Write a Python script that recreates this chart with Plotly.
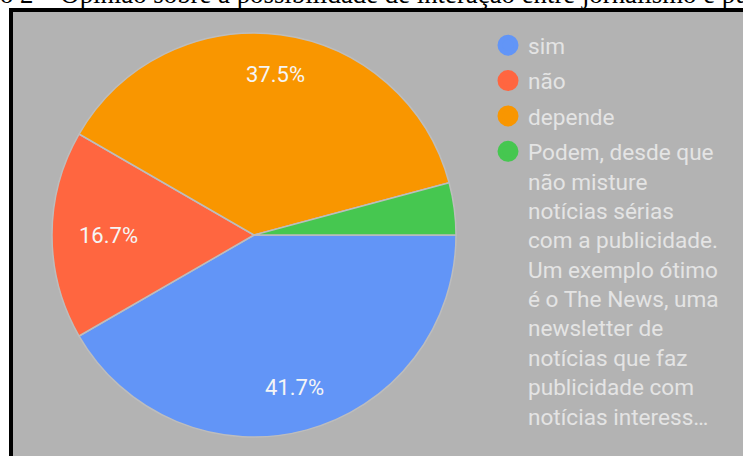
import numpy as np
import plotly.graph_objects as go

# Survey answers and counts
categories = ["sim", "não", "depende",
              "Podem, desde que<br>não misture<br>notícias sérias<br>com a publicidade.<br>"
              "Um exemplo ótimo<br>é o The News, uma<br>newsletter de<br>notícias que faz<br>"
              "publicidade com<br>notícias interess…"]
counts = [10, 4, 9, 1]
colors = ["#6295F7", "#FF6640", "#F99600", "#46C750"]
title_text = "o 2 – Opinião sobre a possibilidade de interação entre jornalismo e pu"

W, H = 743, 456
BG = "#B3B3B3"

# pie placement (pixels)
PX0, PX1, PY0, PY1 = 52, 456, 33, 437
cx, cy, R = (PX0 + PX1) / 2, (PY0 + PY1) / 2, (PX1 - PX0) / 2
START_DEG = 90            # first slice begins at 3 o'clock, clockwise
label_radius = [0.78, 0.72, 0.80, None]   # slices too thin get no label

fig = go.Figure()

fig.add_trace(go.Pie(
    values=counts,
    labels=categories,
    sort=False,
    direction="clockwise",
    rotation=START_DEG,
    marker=dict(colors=colors, line=dict(color="#BDBDBD", width=1.5)),
    textinfo="none",
    domain=dict(x=[PX0 / W, PX1 / W], y=[(H - PY1) / H, (H - PY0) / H]),
    showlegend=False,
    hoverinfo="label+percent",
))

# percentage labels placed along each slice's mid-angle
vals = np.array(counts, dtype=float)
frac = vals / vals.sum()
cum = np.concatenate([[0], np.cumsum(frac)])
for i, f in enumerate(frac):
    if label_radius[i] is None:
        continue
    mid = np.deg2rad(START_DEG + 360 * (cum[i] + f / 2))  # clockwise from north
    px = cx + label_radius[i] * R * np.sin(mid)
    py = cy - label_radius[i] * R * np.cos(mid)
    fig.add_annotation(text=f"{f * 100:.1f}%", xref="paper", yref="paper",
                       x=px / W, y=1 - py / H, showarrow=False,
                       xanchor="center", yanchor="middle",
                       font=dict(family="Roboto", size=22, color="#F5F5F5"))

# Legend entries with round markers
for i, (cat, col) in enumerate(zip(categories, colors)):
    fig.add_trace(go.Scatter(
        x=[None], y=[None], mode="markers", name=cat,
        legendgroup=f"g{i}",
        marker=dict(symbol="circle", size=16, color=col,
                    line=dict(color=col, width=5)),
    ))

fig.add_shape(type="rect", xref="paper", yref="paper",
              x0=11 / W, x1=1.02, y0=-0.02, y1=(H - 10) / H,
              fillcolor=BG, line=dict(color="black", width=4), layer="below")

fig.add_annotation(text=title_text, xref="paper", yref="paper",
                   x=-2 / W, y=(H - 6) / H, xanchor="left", yanchor="bottom",
                   showarrow=False, yshift=-5,
                   font=dict(family="Liberation Serif", size=26.8, color="black"))

fig.update_layout(
    width=W, height=H,
    margin=dict(l=0, r=0, t=0, b=0),
    paper_bgcolor="white",
    plot_bgcolor="rgba(0,0,0,0)",
    xaxis=dict(visible=False),
    yaxis=dict(visible=False),
    showlegend=True,
    legend=dict(
        x=488 / W, y=(H - 24) / H, xanchor="left", yanchor="top",
        bgcolor="rgba(0,0,0,0)",
        font=dict(family="Roboto", size=22.6, color="#E4E4E4"),
        valign="top",
        tracegroupgap=3,
        itemclick=False, itemdoubleclick=False,
    ),
)

fig.write_html("out.html")
